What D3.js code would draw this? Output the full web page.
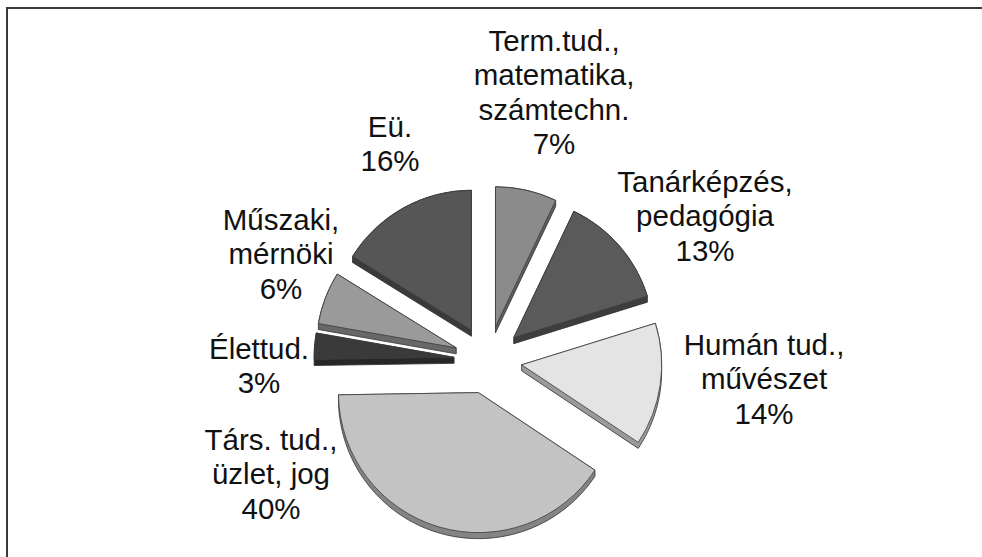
<!DOCTYPE html>
<html>
<head>
<meta charset="utf-8">
<script src="https://cdn.jsdelivr.net/npm/d3@7"></script>
<style>
  html, body { margin: 0; padding: 0; background: #fff; }
  svg { display: block; }
</style>
</head>
<body>
<svg id="chart" width="982" height="557"></svg>
<script>
// Field-of-study categories (label lines) and their percentage shares
const categories = [
  ["Term.tud.,", "matematika,", "számtechn."],
  ["Tanárképzés,", "pedagógia"],
  ["Humán tud.,", "művészet"],
  ["Társ. tud.,", "üzlet, jog"],
  ["Élettud."],
  ["Műszaki,", "mérnöki"],
  ["Eü."]
];
const shares = [7, 13, 14, 40, 3, 6, 16];

// Face colours of the slices, in the same order
const shades = ["#8b8b8b", "#5a5a5a", "#e4e4e4", "#c3c3c3", "#3a3a3a", "#9a9a9a", "#565656"];

// Label block placement relative to the pie centre: [centre x, first baseline y]
const labelOffsets = [
  [66, -309], [217, -168], [276, -5], [-217, 90], [-229, -1], [-207, -130], [-98, -223]
];

const W = 982, H = 557;
const cx = 488, cy = 360;
const R = 140;          // pie radius
const explode = 34;     // distance each slice is pulled out
const depth = 6;        // visible thickness of the 3D slab
const lineH = 34.3;

const svg = d3.select("#chart");

// Frame (left and top edges)
svg.append("path")
  .attr("d", `M7,${H} V8 H${W}`)
  .attr("fill", "none")
  .attr("stroke", "#3a3a3a")
  .attr("stroke-width", 2);

const pie = d3.pie().sort(null).value(d => d)(shares);
const arc = d3.arc().innerRadius(0).outerRadius(R);

const slices = pie.map((p, i) => {
  const mid = (p.startAngle + p.endAngle) / 2;
  return {
    p, i,
    dx: Math.sin(mid) * explode,
    dy: -Math.cos(mid) * explode
  };
});

// Back slices first so front slabs cover them
const order = slices.slice().sort((a, b) => (arc.centroid(a.p)[1] + a.dy) - (arc.centroid(b.p)[1] + b.dy));

const g = svg.append("g").attr("transform", `translate(${cx},${cy})`);

// Outline of the extruded slab: hull of the top face and the same face shifted down
function slabHull(p) {
  const pts = [[0, 0], [0, depth]];
  const n = Math.max(8, Math.ceil((p.endAngle - p.startAngle) / 0.02));
  for (let k = 0; k <= n; k++) {
    const a = p.startAngle + (p.endAngle - p.startAngle) * k / n;
    const x = R * Math.sin(a), y = -R * Math.cos(a);
    pts.push([x, y], [x, y + depth]);
  }
  return d3.polygonHull(pts);
}

order.forEach(s => {
  const sg = g.append("g").attr("transform", `translate(${s.dx},${s.dy})`);
  const base = d3.color(shades[s.i]);
  sg.append("path")
    .attr("d", "M" + slabHull(s.p).join("L") + "Z")
    .attr("fill", base.darker(1.1).formatHex())
    .attr("stroke", "#2e2e2e")
    .attr("stroke-width", 0.8)
    .attr("stroke-linejoin", "round");
  sg.append("path")
    .attr("d", arc(s.p))
    .attr("fill", shades[s.i])
    .attr("stroke", "#3c3c3c")
    .attr("stroke-width", 0.8)
    .attr("stroke-linejoin", "round");
});

// Data labels: category lines followed by the percentage
const labels = svg.append("g")
  .attr("font-family", "'Liberation Sans', Arial, sans-serif")
  .attr("font-size", 29.5)
  .attr("fill", "#111")
  .attr("text-anchor", "middle");

categories.forEach((lines, i) => {
  const [ox, oy] = labelOffsets[i];
  const t = labels.append("text")
    .attr("x", cx + ox)
    .attr("y", cy + oy);
  lines.concat([shares[i] + "%"]).forEach((ln, k) => {
    t.append("tspan")
      .attr("x", cx + ox)
      .attr("dy", k === 0 ? 0 : lineH)
      .text(ln);
  });
});
</script>
</body>
</html>
